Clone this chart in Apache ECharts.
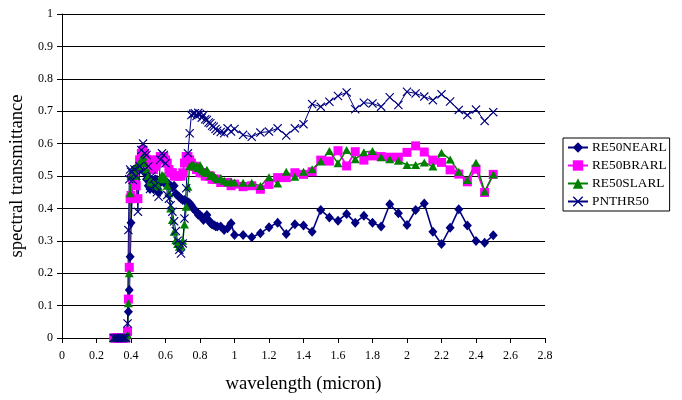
<!DOCTYPE html>
<html>
<head>
<meta charset="utf-8">
<script src="https://cdn.jsdelivr.net/npm/echarts@6/dist/echarts.min.js"></script>
<style>
  html, body { margin: 0; padding: 0; background: #ffffff; }
  #chart { width: 682px; height: 400px; }
</style>
</head>
<body>
<div id="chart"></div>
<script>
// Wavelength samples (micron), shared by all four spectra
const wavelength = [
  0.30, 0.31, 0.32, 0.33, 0.34, 0.35, 0.36, 0.37,
  0.38, 0.385, 0.39, 0.395, 0.40,
  0.41, 0.42, 0.43, 0.44, 0.45, 0.46, 0.47, 0.48, 0.49, 0.50,
  0.51, 0.52, 0.53, 0.54, 0.55, 0.56, 0.57, 0.58, 0.59, 0.60,
  0.61, 0.62, 0.63, 0.64, 0.65, 0.66, 0.67, 0.68, 0.69, 0.70,
  0.71, 0.72, 0.73, 0.74, 0.75, 0.76, 0.77, 0.78, 0.79, 0.80,
  0.81, 0.82, 0.83, 0.84, 0.85, 0.86, 0.87, 0.88, 0.89, 0.90,
  0.92, 0.94, 0.96, 0.98, 1.00,
  1.05, 1.10, 1.15, 1.20, 1.25, 1.30, 1.35, 1.40, 1.45, 1.50,
  1.55, 1.60, 1.65, 1.70, 1.75, 1.80, 1.85, 1.90, 1.95, 2.00,
  2.05, 2.10, 2.15, 2.20, 2.25, 2.30, 2.35, 2.40, 2.45, 2.50
];

const re50nearl = [
  0, 0, 0, 0, 0, 0, 0, 0,
  0.02, 0.081, 0.148, 0.251, 0.356,
  0.50, 0.52, 0.51, 0.53, 0.52, 0.55, 0.54, 0.51, 0.49, 0.47,
  0.46, 0.48, 0.46, 0.49, 0.47, 0.45, 0.48, 0.49, 0.48, 0.48,
  0.48, 0.47, 0.47, 0.465, 0.47, 0.445, 0.44, 0.435, 0.43, 0.426,
  0.426, 0.42, 0.42, 0.416, 0.41, 0.40, 0.395, 0.39, 0.38, 0.38,
  0.374, 0.364, 0.37, 0.38, 0.364, 0.355, 0.35, 0.349, 0.345, 0.344,
  0.344, 0.333, 0.339, 0.354, 0.318,
  0.318, 0.311, 0.323, 0.342, 0.356, 0.321, 0.351, 0.347, 0.328, 0.395,
  0.372, 0.362, 0.383, 0.356, 0.377, 0.356, 0.344, 0.413, 0.385, 0.349,
  0.395, 0.415, 0.328, 0.29, 0.34, 0.397, 0.347, 0.299, 0.294, 0.317
];

const re50brarl = [
  0, 0, 0, 0, 0, 0, 0, 0,
  0.02, 0.12, 0.218, 0.43, 0.44,
  0.49, 0.50, 0.47, 0.43, 0.55, 0.57, 0.58, 0.57, 0.55, 0.54,
  0.55, 0.53, 0.52, 0.53, 0.54, 0.55, 0.56, 0.56, 0.56, 0.55,
  0.54, 0.52, 0.51, 0.51, 0.50, 0.50, 0.50, 0.50, 0.50, 0.51,
  0.54, 0.56, 0.56, 0.55, 0.54, 0.53, 0.53, 0.52, 0.52, 0.51,
  0.51, 0.51, 0.50, 0.50, 0.50, 0.50, 0.49, 0.49, 0.49, 0.49,
  0.48, 0.48, 0.48, 0.47, 0.475,
  0.467, 0.47, 0.459, 0.474, 0.495, 0.495, 0.51, 0.505, 0.513, 0.549,
  0.546, 0.578, 0.531, 0.575, 0.549, 0.562, 0.56, 0.558, 0.558, 0.573,
  0.593, 0.574, 0.549, 0.542, 0.519, 0.506, 0.482, 0.521, 0.449, 0.505
];

const re50slarl = [
  0, 0, 0, 0, 0, 0, 0, 0,
  0.01, 0.107, 0.20, 0.447, 0.50,
  0.52, 0.52, 0.50, 0.53, 0.54, 0.55, 0.56, 0.54, 0.52, 0.50,
  0.48, 0.49, 0.47, 0.48, 0.47, 0.467, 0.49, 0.503, 0.50, 0.49,
  0.47, 0.447, 0.40, 0.364, 0.328, 0.302, 0.29, 0.282, 0.285, 0.30,
  0.35, 0.405, 0.467, 0.53, 0.534, 0.535, 0.53, 0.53, 0.525, 0.534,
  0.52, 0.515, 0.51, 0.519, 0.51, 0.50, 0.503, 0.50, 0.495, 0.49,
  0.493, 0.485, 0.48, 0.482, 0.48,
  0.479, 0.479, 0.469, 0.496, 0.477, 0.513, 0.498, 0.513, 0.521, 0.545,
  0.577, 0.539, 0.58, 0.552, 0.573, 0.577, 0.558, 0.552, 0.547, 0.534,
  0.534, 0.542, 0.529, 0.572, 0.551, 0.513, 0.488, 0.541, 0.452, 0.505
];

const pnthr50 = [
  0, 0, 0, 0, 0, 0, 0, 0,
  0.045, 0.333, 0.49, 0.52, 0.513,
  0.488, 0.52, 0.50, 0.39, 0.53, 0.58, 0.60, 0.57, 0.565, 0.53,
  0.46, 0.50, 0.49, 0.47, 0.45, 0.436, 0.55, 0.57, 0.565, 0.539,
  0.441, 0.43, 0.41, 0.39, 0.36, 0.33, 0.30, 0.272, 0.261, 0.292,
  0.369, 0.462, 0.57, 0.632, 0.688, 0.692, 0.694, 0.685, 0.695, 0.691,
  0.68, 0.688, 0.675, 0.673, 0.665, 0.663, 0.655, 0.652, 0.645, 0.64,
  0.636, 0.632, 0.647, 0.637, 0.645,
  0.627, 0.621, 0.634, 0.637, 0.647, 0.625, 0.647, 0.66, 0.722, 0.714,
  0.729, 0.747, 0.758, 0.706, 0.726, 0.724, 0.714, 0.743, 0.719, 0.76,
  0.755, 0.745, 0.734, 0.752, 0.73, 0.704, 0.688, 0.705, 0.67, 0.697
];

const xTicks = { min: 0, max: 2.8, step: 0.2 };
const yTicks = { min: 0, max: 1, step: 0.1 };

const seriesNames = ['RE50NEARL', 'RE50BRARL', 'RE50SLARL', 'PNTHR50'];

// thin "x" cross outline drawn as a filled polygon
const crossPath = 'path://M0,0.9L0.9,0L5,4.1L9.1,0L10,0.9L5.9,5L10,9.1L9.1,10L5,5.9L0.9,10L0,9.1L4.1,5Z';

function pairs(ys) {
  return wavelength.map((x, i) => [x, ys[i]]);
}

const serif = '"Liberation Serif", "DejaVu Serif", serif';

const chart = echarts.init(document.getElementById('chart'), null, { renderer: 'canvas' });

chart.setOption({
  backgroundColor: '#ffffff',
  animation: false,
  textStyle: { fontFamily: serif, color: '#000' },
  grid: { left: 62, right: 137, top: 14, bottom: 62, containLabel: false },
  legend: {
    orient: 'vertical',
    left: 563,
    top: 138,
    padding: [3, 3, 3, 4],
    itemGap: 5,
    itemWidth: 20,
    itemHeight: 13,
    borderColor: '#000',
    borderWidth: 1,
    textStyle: { fontFamily: serif, fontSize: 13.3, color: '#000', padding: [0, 0, 0, -1] },
    data: seriesNames
  },
  xAxis: {
    type: 'value',
    min: xTicks.min,
    max: xTicks.max,
    interval: xTicks.step,
    name: 'wavelength (micron)',
    nameLocation: 'middle',
    nameGap: 37,
    nameTextStyle: { fontFamily: serif, fontSize: 18.67, color: '#000' },
    axisLine: { show: true, onZero: false, lineStyle: { color: '#000', width: 1 } },
    axisTick: { show: true, inside: false, length: 5, lineStyle: { color: '#000' } },
    axisLabel: {
      margin: 12,
      fontFamily: serif, fontSize: 12, color: '#000',
      formatter: v => String(+v.toFixed(1))
    },
    splitLine: { show: false }
  },
  yAxis: {
    type: 'value',
    min: yTicks.min,
    max: yTicks.max,
    interval: yTicks.step,
    name: 'spectral transmittance',
    nameLocation: 'middle',
    nameGap: 30,
    nameTextStyle: { fontFamily: serif, fontSize: 18.67, color: '#000' },
    axisLine: { show: true, lineStyle: { color: '#000', width: 1 } },
    axisTick: { show: true, inside: false, length: 5, lineStyle: { color: '#000' } },
    axisLabel: {
      margin: 9,
      fontFamily: serif, fontSize: 12, color: '#000',
      formatter: v => String(+v.toFixed(1))
    },
    splitLine: { show: true, lineStyle: { color: '#000', width: 1 } }
  },
  series: [
    {
      name: seriesNames[0], type: 'line', data: pairs(re50nearl),
      symbol: 'diamond', symbolSize: [9, 10],
      itemStyle: { color: '#000080' },
      lineStyle: { color: '#000080', width: 1.6 }
    },
    {
      name: seriesNames[1], type: 'line', data: pairs(re50brarl),
      symbol: 'rect', symbolSize: 9,
      itemStyle: { color: '#ff00ff' },
      lineStyle: { color: '#ff00ff', width: 1.8 }
    },
    {
      name: seriesNames[2], type: 'line', data: pairs(re50slarl),
      symbol: 'triangle', symbolSize: [9, 8],
      itemStyle: { color: '#008000' },
      lineStyle: { color: '#008000', width: 1.5 }
    },
    {
      name: seriesNames[3], type: 'line', data: pairs(pnthr50),
      symbol: crossPath, symbolSize: 9,
      itemStyle: { color: '#000080' },
      lineStyle: { color: '#000080', width: 1 }
    }
  ]
});
</script>
</body>
</html>
